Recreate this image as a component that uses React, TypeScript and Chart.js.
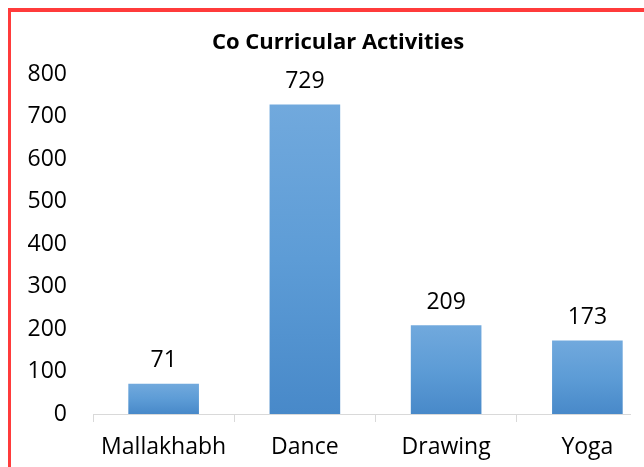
import React, { useEffect, useRef } from "react";
import { Chart, registerables } from "chart.js";

Chart.register(...registerables);

const categories = ["Mallakhabh", "Dance", "Drawing", "Yoga"];
const counts = [71, 729, 209, 173];
const yTicks = [0, 100, 200, 300, 400, 500, 600, 700, 800];
const titleText = "Co Curricular Activities";

const FONT = "'Open Sans'";

const dataLabelPlugin = {
  id: "dataLabels",
  afterDatasetsDraw(chart: any) {
    const ctx = chart.ctx;
    const meta = chart.getDatasetMeta(0);
    ctx.save();
    ctx.fillStyle = "#000";
    ctx.font = `23px ${FONT}`;
    ctx.textAlign = "center";
    ctx.textBaseline = "middle";
    meta.data.forEach((el: any, i: number) => {
      ctx.fillText(String(chart.data.datasets[0].data[i]), el.x, el.y - 23);
    });
    ctx.restore();
  },
};

export default function App() {
  const ref = useRef<HTMLCanvasElement>(null);
  useEffect(() => {
    document.body.style.margin = "0";
    const chart = new Chart(ref.current!, {
      type: "bar",
      data: {
        labels: categories,
        datasets: [
          {
            data: counts,
            barPercentage: 0.5,
            categoryPercentage: 1,
            backgroundColor: (c: any) => {
              const chart = c.chart;
              const y = chart.scales && chart.scales.y;
              if (!chart.chartArea || !y || c.raw === undefined) return "#5B9BD5";
              const top = y.getPixelForValue(c.raw);
              const base = y.getPixelForValue(0);
              const g = chart.ctx.createLinearGradient(0, top, 0, base);
              g.addColorStop(0, "#71A9DD");
              g.addColorStop(0.5, "#5D9CD6");
              g.addColorStop(1, "#4889C9");
              return g;
            },
          },
        ],
      },
      options: {
        responsive: false,
        animation: false,
        layout: { padding: 0 },
        plugins: {
          legend: { display: false },
          tooltip: { enabled: false },
          title: {
            display: true,
            text: titleText,
            color: "#000",
            font: { family: FONT, size: 22, weight: "bold" },
            padding: { top: 30, bottom: 18 },
          },
        },
        scales: {
          x: {
            grid: {
              display: true,
              drawOnChartArea: false,
              drawTicks: true,
              tickLength: 8,
              color: "#D9D9D9",
              offset: true,
            },
            border: { display: true, color: "#D9D9D9", width: 1 },
            ticks: {
              color: "#000",
              font: { family: FONT, size: 23 },
              padding: 12,
              maxRotation: 0,
              autoSkip: false,
            },
            afterFit: (s: any) => {
              s.height = 53;
            },
          },
          y: {
            min: 0,
            max: 800,
            afterBuildTicks: (s: any) => {
              s.ticks = yTicks.map((v) => ({ value: v }));
            },
            grid: { display: false, drawTicks: false },
            border: { display: false },
            ticks: {
              color: "#000",
              font: { family: FONT, size: 23 },
              padding: 26,
            },
            afterFit: (s: any) => {
              s.width = 93;
            },
          },
          yRight: {
            position: "right",
            display: true,
            min: 0,
            max: 800,
            grid: { display: false, drawTicks: false },
            border: { display: false },
            ticks: { display: false },
            afterFit: (s: any) => {
              s.width = 18;
            },
          },
        },
      },
      plugins: [dataLabelPlugin],
    });
    return () => chart.destroy();
  }, []);

  return (
    <div style={{ position: "fixed", left: 0, top: 0, width: 644, height: 467, overflow: "hidden", background: "#fff" }}>
      <div style={{ position: "absolute", left: 0, top: 0, width: 631, height: 467, overflow: "hidden" }}>
        <canvas ref={ref} width={676} height={467} style={{ width: 676, height: 467, display: "block" }} />
      </div>
      <div
        style={{
          position: "absolute",
          left: 8,
          top: 8,
          width: 636,
          height: 459,
          borderTop: "4px solid #FF3B3B",
          borderLeft: "3px solid #FF3B3B",
          boxSizing: "border-box",
          pointerEvents: "none",
        }}
      />
    </div>
  );
}
